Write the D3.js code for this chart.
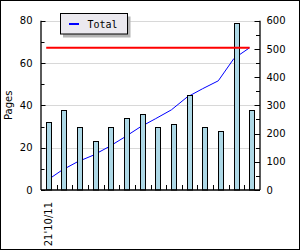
<!DOCTYPE html>
<html><head><meta charset="utf-8">
<script src="https://cdn.jsdelivr.net/npm/d3@7/dist/d3.min.js"></script>
<style>html,body{margin:0;padding:0;background:#fff;}svg{display:block;font-family:"DejaVu Sans",sans-serif;}</style>
</head><body>
<script>
const categories = ["d1","d2","d3","d4","d5","d6","d7","d8","d9","d10","d11","d12","d13","d14"];
const tickLabels = ["21'10/11","","","","","","","","","","","","",""];
const pages = [32,38,30,23,30,34,36,30,31,45,30,28,79,38];
const leftTicks = [0,20,40,60,80];
const rightTicks = [0,100,200,300,400,500,600];
const seriesName = "Total";
const yLabel = "Pages";

const totals = [];
pages.reduce((a,v)=>{const s=a+v; totals.push(s); return s;},0);
const grand = totals[totals.length-1];

const W=300,H=250;
const L=41,R=260,T=20.7,B=190;
const svg=d3.select("body").append("svg").attr("width",W).attr("height",H);
svg.append("rect").attr("x",0.5).attr("y",0.5).attr("width",W-1).attr("height",H-1).attr("fill","#fff").attr("stroke","#000");

const x=d3.scaleBand().domain(categories).range([L,R]).paddingInner(0).paddingOuter(0);
const yL=d3.scaleLinear().domain([0,80]).range([B,T]);
const yR=d3.scaleLinear().domain([0,600]).range([B,T]);

// grid
svg.append("g").selectAll("line").data(leftTicks.filter(d=>d>0)).join("line")
  .attr("x1",L).attr("x2",R).attr("y1",d=>Math.round(yL(d))+0.5).attr("y2",d=>Math.round(yL(d))+0.5)
  .attr("stroke","#d8d8d8");

// cumulative line (behind bars)
const lx = c => x(c)+x.bandwidth()/2-2.6;
svg.append("path").datum(totals).attr("fill","none").attr("stroke","#0000ff").attr("stroke-width",1)
  .attr("d",d3.line().x((d,i)=>lx(categories[i])).y(d=>yR(d)));

// bars
const bw=5;
svg.append("g").selectAll("rect").data(pages).join("rect")
  .attr("x",(d,i)=>Math.round(x(categories[i])+x.bandwidth()/2-bw/2-0.5)+0.5)
  .attr("y",d=>Math.round(yL(d))+0.5)
  .attr("width",bw)
  .attr("height",d=>B-Math.round(yL(d))-0.5)
  .attr("fill","#add8e6").attr("stroke","#000").attr("stroke-width",1);

// total line
svg.append("line").attr("x1",lx(categories[0])).attr("x2",lx(categories[categories.length-1]))
  .attr("y1",yR(grand)).attr("y2",yR(grand)).attr("stroke","#ff0000").attr("stroke-width",2);

// axes
const ax=svg.append("g").attr("stroke","#000").attr("stroke-width",1.3);
ax.append("line").attr("x1",L).attr("x2",L).attr("y1",T).attr("y2",B);
ax.append("line").attr("x1",R).attr("x2",R).attr("y1",T).attr("y2",B);
ax.append("line").attr("x1",L).attr("x2",R).attr("y1",B).attr("y2",B);

const tk=svg.append("g").attr("stroke","#000").attr("stroke-width",1);
const lMinor=d3.range(10,80,20), rMinor=d3.range(50,600,100);
tk.selectAll(".lm").data(leftTicks).join("line").attr("x1",L).attr("x2",L+4.5).attr("y1",d=>Math.round(yL(d))+0.5).attr("y2",d=>Math.round(yL(d))+0.5);
tk.selectAll(".ln").data(lMinor).join("line").attr("class","ln").attr("x1",L).attr("x2",L+3.5).attr("y1",d=>Math.round(yL(d))+0.5).attr("y2",d=>Math.round(yL(d))+0.5);
tk.selectAll(".rm").data(rightTicks).join("line").attr("class","rm").attr("x1",R).attr("x2",R-5.5).attr("y1",d=>Math.round(yR(d))+0.5).attr("y2",d=>Math.round(yR(d))+0.5);
tk.selectAll(".rn").data(rMinor).join("line").attr("class","rn").attr("x1",R).attr("x2",R-4).attr("y1",d=>Math.round(yR(d))+0.5).attr("y2",d=>Math.round(yR(d))+0.5);
tk.selectAll(".bt").data(categories.slice(1)).join("line").attr("class","bt")
  .attr("x1",d=>Math.round(x(d))+0.5).attr("x2",d=>Math.round(x(d))+0.5).attr("y1",B).attr("y2",B-5);

// labels
const lab=svg.append("g").attr("font-size",10).attr("fill","#000");
lab.selectAll(".ll").data(leftTicks).join("text").attr("x",32.5).attr("y",d=>yL(d)).attr("dy","0.36em").attr("text-anchor","end").text(d=>d);
lab.selectAll(".rl").data(rightTicks).join("text").attr("class","rl").attr("x",266.5).attr("y",d=>yR(d)).attr("dy","0.36em").attr("text-anchor","start").text(d=>d);
lab.append("text").attr("transform","translate(12.3,"+((T+B)/2)+") rotate(-90)").attr("text-anchor","middle").text(yLabel);
lab.selectAll(".xl").data(tickLabels).join("text").attr("class","xl")
  .attr("transform",(d,i)=>"translate("+(x(categories[i])+x.bandwidth()/2+3)+",202) rotate(-90)")
  .attr("text-anchor","end").text(d=>d);

// legend
const lg=svg.append("g");
lg.append("rect").attr("x",63).attr("y",16.5).attr("width",67.5).attr("height",21).attr("fill","#b4b4b4");
lg.append("rect").attr("x",60.5).attr("y",13.5).attr("width",67).attr("height",20.5).attr("fill","#ebe9ef").attr("stroke","#000");
lg.append("line").attr("x1",69).attr("x2",79).attr("y1",24).attr("y2",24).attr("stroke","#0000ff").attr("stroke-width",2);
lg.append("text").attr("x",87.5).attr("y",27.8).attr("font-family","'DejaVu Sans Mono',monospace").attr("font-size",10).text(seriesName);
</script>
</body></html>
